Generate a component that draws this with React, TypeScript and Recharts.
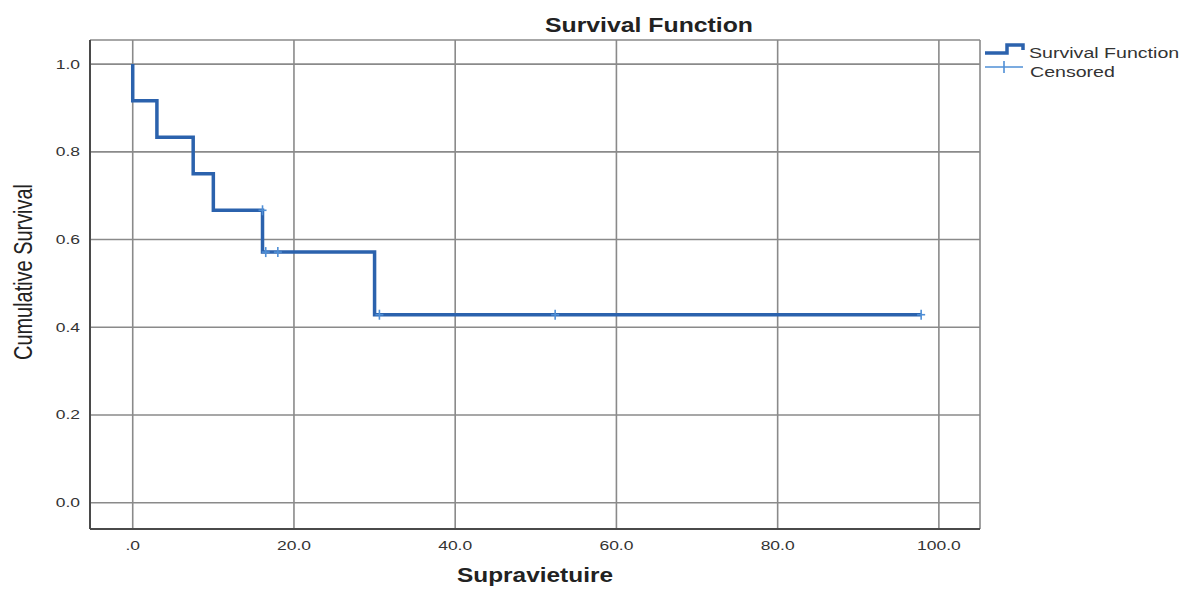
import React from 'react';
import { ComposedChart, Line, Scatter, XAxis, YAxis, CartesianGrid, Legend } from 'recharts';

// Kaplan-Meier step points (time, cumulative survival after that time)
const curveTimes = [0, 0, 3, 7.5, 10, 16.1, 30, 97.8];
const curveSurvival = [1, 0.9167, 0.8333, 0.75, 0.6667, 0.5714, 0.4286, 0.4286];

// Censored observations
const censoredTimes = [16.1, 16.5, 18.0, 30.6, 52.4, 97.8];
const censoredSurvival = [0.6667, 0.5714, 0.5714, 0.4286, 0.4286, 0.4286];

const xTicks = [0, 20, 40, 60, 80, 100];
const yTicks = [0, 0.2, 0.4, 0.6, 0.8, 1.0];

const chartTitle = 'Survival Function';
const xTitle = 'Supravietuire';
const yTitle = 'Cumulative Survival';
const legendLabels = ['Survival Function', 'Censored'];

const curveData = curveTimes.map((t, i) => ({ t, s: curveSurvival[i] }));
const censoredData = censoredTimes.map((t, i) => ({ t, s: censoredSurvival[i] }));

const FONT = '"Liberation Sans", Arial, sans-serif';
const LINE_COLOR = '#2b62ad';
const CENSOR_COLOR = '#4f8fd6';
const STRETCH = 1.4;

const fmtX = (v: number) => (v === 0 ? '.0' : v.toFixed(1));
const fmtY = (v: number) => v.toFixed(1);

const XTick = (props: any) => {
  const { x, payload } = props;
  return (
    <g transform={`translate(${x},549.5) scale(${STRETCH},1)`}>
      <text x={0} y={0} textAnchor="middle" fontSize={12.5} fill="#333" fontFamily={FONT}>
        {fmtX(payload.value)}
      </text>
    </g>
  );
};

const YTick = (props: any) => {
  const { y, payload } = props;
  return (
    <g transform={`translate(80,${y + 4.5}) scale(${STRETCH},1)`}>
      <text x={0} y={0} textAnchor="end" fontSize={12.5} fill="#333" fontFamily={FONT}>
        {fmtY(payload.value)}
      </text>
    </g>
  );
};

const XLabel = () => (
  <text
    x={535}
    y={582}
    textAnchor="middle"
    fontSize={19.5}
    fontWeight="bold"
    fill="#222"
    fontFamily={FONT}
    textLength={156}
    lengthAdjust="spacingAndGlyphs"
  >
    {xTitle}
  </text>
);

const YLabel = () => (
  <g transform={`translate(31.5,272) rotate(-90) scale(1,${STRETCH})`}>
    <text
      x={0}
      y={0}
      textAnchor="middle"
      fontSize={19}
      fill="#222"
      fontFamily={FONT}
      textLength={176}
      lengthAdjust="spacingAndGlyphs"
    >
      {yTitle}
    </text>
  </g>
);

const CensorMark = (props: any) => {
  const { cx, cy } = props;
  if (cx == null || cy == null) return null;
  return (
    <g>
      <line x1={cx} y1={cy - 5} x2={cx} y2={cy + 5} stroke={CENSOR_COLOR} strokeWidth={1.6} />
      <line x1={cx - 4} y1={cy} x2={cx + 4} y2={cy} stroke={CENSOR_COLOR} strokeWidth={1.6} />
    </g>
  );
};

const LegendContent = () => (
  <svg width={216} height={50} style={{ display: 'block', overflow: 'visible' }}>
    <polyline
      points="5,15 27,15 27,7 43,7 43,12"
      fill="none"
      stroke={LINE_COLOR}
      strokeWidth={3.5}
    />
    <g transform={`translate(49,19.5) scale(${STRETCH},1)`}>
      <text x={0} y={0} fontSize={14} fill="#333" fontFamily={FONT}>
        {legendLabels[0]}
      </text>
    </g>
    <line x1={5} y1={29} x2={43} y2={29} stroke={CENSOR_COLOR} strokeWidth={1.6} />
    <line x1={24} y1={23} x2={24} y2={35} stroke={CENSOR_COLOR} strokeWidth={1.6} />
    <g transform={`translate(50,39) scale(${STRETCH},1)`}>
      <text x={0} y={0} fontSize={14} fill="#333" fontFamily={FONT}>
        {legendLabels[1]}
      </text>
    </g>
  </svg>
);

export default function App() {
  return (
    <div style={{ position: 'absolute', left: 0, top: 0, width: 1196, height: 592, background: '#fff' }}>
      <svg
        width={1196}
        height={40}
        style={{ position: 'absolute', left: 0, top: 0, pointerEvents: 'none' }}
      >
        <text
          x={649}
          y={31.5}
          textAnchor="middle"
          fontSize={21}
          fontWeight="bold"
          fill="#222"
          fontFamily={FONT}
          textLength={208}
          lengthAdjust="spacingAndGlyphs"
        >
          {chartTitle}
        </text>
      </svg>
      <ComposedChart
        width={1196}
        height={592}
        margin={{ top: 40, right: 216, bottom: 0, left: 0 }}
        style={{ position: 'absolute', left: 0, top: 0 }}
      >
        <CartesianGrid stroke="#8a8a8a" strokeWidth={1.6} />
        <XAxis
          type="number"
          dataKey="t"
          domain={[-5.3, 105.1]}
          ticks={xTicks}
          allowDataOverflow
          height={63}
          tickLine={false}
          axisLine={{ stroke: '#4a4a4a', strokeWidth: 2 }}
          tick={<XTick />}
          interval={0}
          label={<XLabel />}
        />
        <YAxis
          type="number"
          dataKey="s"
          domain={[-0.06, 1.055]}
          ticks={yTicks}
          allowDataOverflow
          width={90}
          tickLine={false}
          axisLine={{ stroke: '#4a4a4a', strokeWidth: 2 }}
          tick={<YTick />}
          interval={0}
          label={<YLabel />}
        />
        <Line
          data={curveData}
          dataKey="s"
          type="stepAfter"
          stroke={LINE_COLOR}
          strokeWidth={3.5}
          dot={false}
          activeDot={false}
          isAnimationActive={false}
          legendType="none"
        />
        <Scatter
          data={censoredData}
          dataKey="s"
          shape={<CensorMark />}
          isAnimationActive={false}
          legendType="none"
        />
        <Legend
          content={<LegendContent />}
          wrapperStyle={{ position: 'absolute', left: 980, top: 38, width: 0, height: 0, overflow: 'visible' }}
        />
      </ComposedChart>
    </div>
  );
}
